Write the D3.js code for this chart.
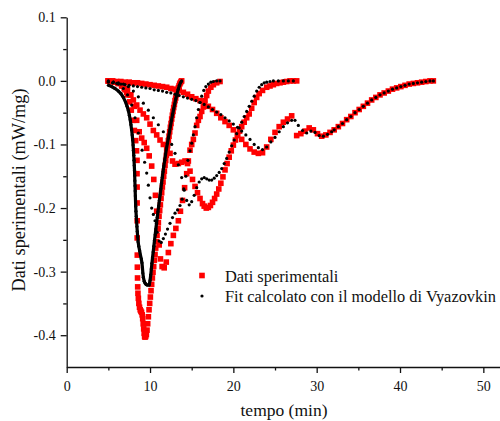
<!DOCTYPE html>
<html><head><meta charset="utf-8">
<script src="https://cdn.jsdelivr.net/npm/d3@7"></script>
<style>html,body{margin:0;padding:0;background:#fff;}svg{display:block;}</style>
</head><body><div id="chart"></div>
<script>
// ---- data: [tempo (min), mW/mg] ----
const r1 = [[5.0,0],[5.4,-0.001],[5.8,-0.002],[6.2,-0.004],[6.6,-0.008],[7.0,-0.014],[7.3,-0.022],[7.55,-0.033],[7.75,-0.046],[7.95,-0.062],[8.12,-0.078],[8.28,-0.094],[8.38,-0.110],
[8.44,-0.125],[8.44,-0.146],[8.45,-0.167],[8.45,-0.192],[8.46,-0.220],[8.46,-0.247],[8.47,-0.274],[8.48,-0.293],[8.50,-0.310],[8.52,-0.324],[8.55,-0.334],[8.6,-0.342],[8.66,-0.350],[8.74,-0.356],[8.82,-0.360],[8.9,-0.362],[8.98,-0.364],[9.06,-0.368],[9.12,-0.374],[9.18,-0.382],[9.24,-0.390],[9.30,-0.397],[9.35,-0.402],
[9.40,-0.403],[9.48,-0.402],[9.56,-0.399],[9.64,-0.392],[9.72,-0.382],[9.80,-0.371],[9.88,-0.360],[9.96,-0.350],[10.04,-0.340],[10.12,-0.330],[10.20,-0.320],[10.28,-0.310],[10.36,-0.301],[10.44,-0.292],[10.52,-0.282],[10.60,-0.273],[10.68,-0.263],[10.76,-0.253],[10.84,-0.243],[10.92,-0.233],[11.00,-0.223],[11.08,-0.213],[11.16,-0.204],[11.24,-0.195],[11.32,-0.185],[11.40,-0.176],[11.48,-0.167],[11.56,-0.159],[11.64,-0.150],[11.72,-0.142],[11.80,-0.133],[11.88,-0.125],[11.96,-0.117],[12.04,-0.109],[12.12,-0.102],[12.20,-0.094],[12.28,-0.087],[12.36,-0.080],[12.44,-0.073],[12.52,-0.067],[12.60,-0.060],[12.68,-0.054],[12.76,-0.048],[12.84,-0.042],[12.92,-0.037],[13.00,-0.031],[13.08,-0.027],[13.16,-0.022],[13.24,-0.018],[13.32,-0.014],[13.40,-0.011],[13.48,-0.008],[13.56,-0.005],[13.64,-0.003],[13.72,-0.001],[13.80,0]];

const b1 = [[5.0,-0.007],[5.4,-0.009],[5.8,-0.012],[6.2,-0.016],[6.5,-0.020],[6.8,-0.026],[7.05,-0.033],[7.25,-0.040],[7.4,-0.047],[7.52,-0.054],[7.62,-0.061],[7.71,-0.069],[7.79,-0.077],[7.86,-0.085],[7.92,-0.093],[7.97,-0.101],[8.01,-0.109],[8.05,-0.117],[8.08,-0.125],[8.11,-0.133],[8.14,-0.141],[8.16,-0.149],[8.18,-0.157],[8.20,-0.165],[8.22,-0.173],[8.24,-0.181],[8.26,-0.189],[8.28,-0.197],[8.31,-0.205],[8.35,-0.213],[8.39,-0.221],[8.43,-0.229],[8.47,-0.237],[8.52,-0.245],[8.57,-0.253],[8.65,-0.260],[8.75,-0.267],[8.85,-0.274],[8.95,-0.280],[9.03,-0.286],[9.09,-0.294],[9.14,-0.302],[9.2,-0.309],[9.3,-0.315],[9.4,-0.318],[9.52,-0.320],[9.64,-0.321],[9.76,-0.321],[9.9,-0.321],
[10.0,-0.314],[10.09,-0.305],[10.155,-0.296],[10.225,-0.287],[10.30,-0.278],[10.38,-0.269],[10.46,-0.260],[10.535,-0.251],[10.62,-0.242],[10.70,-0.233],[10.78,-0.224],[10.865,-0.215],[10.95,-0.206],[11.035,-0.197],[11.12,-0.188],[11.21,-0.179],[11.30,-0.170],[11.38,-0.161],[11.47,-0.152],[11.56,-0.143],[11.66,-0.134],[11.76,-0.125],[11.86,-0.116],[11.965,-0.107],[12.085,-0.098],[12.215,-0.089],[12.34,-0.080],[12.455,-0.071],[12.575,-0.062],[12.705,-0.053],[12.84,-0.044],[12.97,-0.036],[13.10,-0.028],[13.24,-0.020],[13.39,-0.013],[13.53,-0.007],[13.65,-0.003],[13.8,0]];

const r2 = [[5.0,0],[5.6,-0.001],[6.2,-0.003],[6.8,-0.008],[7.3,-0.014],[7.7,-0.022],[8.1,-0.040],[8.4,-0.062],[8.7,-0.080],[9.0,-0.090],[9.3,-0.097],[9.6,-0.106],[9.9,-0.118],[10.2,-0.134],[10.45,-0.155],[10.65,-0.180],[10.8,-0.205],[10.95,-0.232],[11.1,-0.258],[11.25,-0.280],[11.45,-0.292],[11.7,-0.294],[11.95,-0.285],[12.2,-0.270],[12.5,-0.256],[12.8,-0.243],[13.1,-0.232],[13.4,-0.220],[13.65,-0.205],[13.9,-0.188],[14.15,-0.168],[14.4,-0.146],[14.6,-0.126],[14.8,-0.109],[15.0,-0.100],[15.2,-0.092],[15.4,-0.082],[15.6,-0.070],[15.8,-0.062],[16.0,-0.056],[16.2,-0.048],[16.4,-0.041],[16.6,-0.031],[16.8,-0.023],[17.0,-0.016],[17.3,-0.010],[17.6,-0.006],[18.0,-0.003],[18.4,-0.001]];

const b2 = [[5.0,0],[5.6,-0.002],[6.2,-0.005],[6.8,-0.012],[7.3,-0.022],[7.8,-0.038],[8.2,-0.058],[8.6,-0.082],[9.05,-0.109],[9.35,-0.128],[9.6,-0.145],[9.8,-0.164],[10.0,-0.184],[10.2,-0.200],[10.4,-0.210],[10.6,-0.220],[10.85,-0.238],[11.1,-0.252],[11.35,-0.254],[11.6,-0.248],[11.85,-0.241],[12.1,-0.233],[12.4,-0.224],[12.7,-0.215],[13.0,-0.208],[13.3,-0.203],[13.6,-0.196],[13.85,-0.186],[14.05,-0.170],[14.3,-0.150],[14.55,-0.125],[14.8,-0.110],[15.0,-0.098],[15.2,-0.085],[15.4,-0.072],[15.6,-0.058],[15.8,-0.045],[16.0,-0.034],[16.2,-0.024],[16.45,-0.015],[16.7,-0.009],[17.0,-0.005],[17.3,-0.002],[17.6,-0.001],[18.0,0],[18.4,0]];

const r3 = [[5.0,0],[5.4,-0.001],[5.8,-0.002],[6.2,-0.004],[6.6,-0.007],[6.9,-0.012],[7.2,-0.018],[7.6,-0.022],[8.0,-0.030],[8.4,-0.038],[8.8,-0.046],[9.2,-0.052],[9.6,-0.058],[10.0,-0.068],[10.4,-0.078],[10.8,-0.085],[11.2,-0.093],[11.6,-0.100],[12.0,-0.107],[12.4,-0.114],[12.7,-0.126],[13.0,-0.131],[13.4,-0.130],[13.8,-0.128],[14.2,-0.126],[14.5,-0.130],[14.8,-0.142],[15.1,-0.155],[15.4,-0.166],[15.7,-0.176],[16.0,-0.185],[16.3,-0.193],[16.5,-0.197],[16.75,-0.200],[17.0,-0.199],[17.25,-0.196],[17.5,-0.191],[17.75,-0.185],[18.0,-0.178],[18.25,-0.170],[18.5,-0.161],[18.75,-0.151],[19.0,-0.140],[19.25,-0.130],[19.5,-0.120],[19.75,-0.110],[20.0,-0.101],[20.25,-0.093],[20.5,-0.086],[20.75,-0.079],[21.0,-0.072],[21.3,-0.065],[21.6,-0.058],[21.9,-0.052],[22.2,-0.043],[22.5,-0.034],[22.8,-0.026],[23.1,-0.020],[23.5,-0.015],[24.0,-0.010],[24.4,-0.008],[24.8,-0.006],[25.2,-0.004],[25.6,-0.003],[26.0,-0.002],[26.4,-0.001],[26.8,0],[27.2,0],[27.6,0]];

const b3 = [[5.0,-0.001],[5.6,-0.002],[6.2,-0.003],[6.8,-0.005],[7.4,-0.009],[8.0,-0.016],[8.6,-0.025],[9.2,-0.035],[9.8,-0.046],[10.4,-0.058],[11.0,-0.069],[11.6,-0.080],[12.2,-0.090],[12.6,-0.100],[13.0,-0.114],[13.4,-0.132],[13.8,-0.152],[14.1,-0.172],[14.4,-0.188],[14.7,-0.195],[15.0,-0.190],[15.3,-0.180],[15.6,-0.168],[15.9,-0.159],[16.2,-0.154],[16.5,-0.152],[16.8,-0.154],[17.1,-0.156],[17.4,-0.156],[17.7,-0.153],[18.0,-0.149],[18.3,-0.144],[18.6,-0.138],[18.9,-0.130],[19.2,-0.122],[19.5,-0.112],[19.8,-0.102],[20.1,-0.093],[20.4,-0.083],[20.7,-0.074],[21.0,-0.065],[21.3,-0.056],[21.6,-0.048],[21.9,-0.040],[22.2,-0.032],[22.5,-0.024],[22.8,-0.016],[23.1,-0.010],[23.4,-0.006],[23.7,-0.003],[24.0,-0.002],[24.4,-0.001],[24.8,0],[25.4,0],[26.0,0],[26.6,0],[27.2,0]];

const r4 = [[5.0,0],[5.5,0],[6.0,-0.001],[6.5,-0.001],[7.0,-0.002],[7.5,-0.002],[8.0,-0.003],[8.5,-0.003],[9.0,-0.004],[9.5,-0.005],[10.0,-0.006],[10.5,-0.007],[11.0,-0.008],[11.5,-0.009],[12.0,-0.010],[12.5,-0.012],[13.0,-0.013],[13.5,-0.015],[14.0,-0.018],[14.5,-0.021],[15.0,-0.025],[15.5,-0.028],[16.0,-0.031],[16.5,-0.035],[17.0,-0.040],[17.5,-0.045],[18.0,-0.051],[18.5,-0.058],[19.0,-0.064],[19.5,-0.070],[20.0,-0.077],[20.5,-0.084],[21.0,-0.092],[21.5,-0.100],[22.0,-0.107],[22.5,-0.112],[23.0,-0.114],[23.5,-0.113],[24.0,-0.104],[24.5,-0.092],[25.0,-0.081],[25.5,-0.072],[26.0,-0.065],[26.5,-0.060],[27.0,-0.055],
[27.6,-0.086],[28.1,-0.083],[28.6,-0.079],[29.1,-0.074],[29.6,-0.077],[30.1,-0.083],[30.6,-0.087],[31.1,-0.085],[31.6,-0.081],[32.1,-0.077],[32.6,-0.072],[33.1,-0.067],[33.6,-0.061],[34.1,-0.056],[34.6,-0.050],[35.1,-0.045],[35.6,-0.040],[36.1,-0.035],[36.6,-0.030],[37.1,-0.026],[37.6,-0.022],[38.1,-0.019],[38.6,-0.016],[39.1,-0.013],[39.6,-0.011],[40.1,-0.009],[40.6,-0.007],[41.1,-0.005],[41.6,-0.004],[42.1,-0.003],[42.6,-0.002],[43.1,-0.001],[43.6,0],[44.0,0]];

const b4 = [[5.0,-0.002],[5.5,-0.003],[6.0,-0.004],[6.5,-0.005],[7.0,-0.006],[7.5,-0.007],[8.0,-0.008],[8.5,-0.009],[9.0,-0.010],[9.5,-0.011],[10.0,-0.012],[10.5,-0.014],[11.0,-0.015],[11.5,-0.016],[12.0,-0.018],[12.5,-0.019],[13.0,-0.021],[13.5,-0.023],[14.0,-0.025],[14.5,-0.027],[15.0,-0.029],[15.5,-0.031],[16.0,-0.034],[16.5,-0.037],[17.0,-0.041],[17.5,-0.045],[18.0,-0.049],[18.5,-0.053],[19.0,-0.058],[19.5,-0.063],[20.0,-0.068],[20.5,-0.073],[21.0,-0.079],[21.5,-0.085],[22.0,-0.092],[22.5,-0.100],[23.0,-0.105],[23.5,-0.108],[24.0,-0.104],[24.5,-0.096],[25.0,-0.089],[25.5,-0.080],[26.0,-0.072],[26.5,-0.066],[27.0,-0.062],[27.4,-0.062],[27.8,-0.070],[28.3,-0.078],[28.8,-0.082],[29.3,-0.079],[29.8,-0.081],[30.3,-0.086],[30.8,-0.087],[31.3,-0.084],[31.8,-0.080],[32.1,-0.077],[32.6,-0.072],[33.1,-0.067],[33.6,-0.061],[34.1,-0.056],[34.6,-0.050],[35.1,-0.045],[35.6,-0.040],[36.1,-0.035],[36.6,-0.030],[37.1,-0.026],[37.6,-0.022],[38.1,-0.019],[38.6,-0.016],[39.1,-0.013],[39.6,-0.011],[40.1,-0.009],[40.6,-0.007],[41.1,-0.005],[41.6,-0.004],[42.1,-0.003],[42.6,-0.002],[43.1,-0.001],[43.6,0],[44.0,0]];

const redSeries = [r1, r2, r3, r4];
const blackSeries = [b1, b2, b3, b4];
const xMajor = [0, 10, 20, 30, 40, 50];
const xMinor = [5, 15, 25, 35, 45];
const yMajor = [0.1, 0.0, -0.1, -0.2, -0.3, -0.4];
const yMinor = [0.05, -0.05, -0.15, -0.25, -0.35];
const xTitle = "tempo (min)";
const yTitle = "Dati sperimentali (mW/mg)";
const legendLabels = ["Dati sperimentali", "Fit calcolato con il modello di Vyazovkin"];

// ---- drawing ----
const W = 500, H = 421;
const FONT = "'Liberation Serif','Times New Roman',Times,serif";
const svg = d3.select("#chart").append("svg").attr("width", W).attr("height", H);
const x = d3.scaleLinear().domain([0, 52]).range([66.7, 500]);
const y = d3.scaleLinear().domain([-0.45, 0.1]).range([367, 17.3]);

const gx = svg.append("g").attr("transform", `translate(0,${y(-0.45)})`);
gx.call(d3.axisBottom(x).tickValues(xMajor).tickSize(6).tickSizeOuter(0).tickPadding(8.5).tickFormat(d => String(d)));
const gxm = svg.append("g").attr("transform", `translate(0,${y(-0.45)})`);
gxm.call(d3.axisBottom(x).tickValues(xMinor).tickSize(3.5).tickSizeOuter(0).tickFormat(""));
gxm.select(".domain").remove();

const gy = svg.append("g").attr("transform", `translate(${x(0)},0)`);
gy.call(d3.axisLeft(y).tickValues(yMajor).tickSize(6).tickSizeOuter(0).tickPadding(5).tickFormat(d => d.toFixed(1)));
const gym = svg.append("g").attr("transform", `translate(${x(0)},0)`);
gym.call(d3.axisLeft(y).tickValues(yMinor).tickSize(3.5).tickSizeOuter(0).tickFormat(""));
gym.select(".domain").remove();

svg.selectAll(".domain, .tick line").attr("stroke", "#111").attr("stroke-width", 1.3);
svg.selectAll(".tick text").attr("font-family", FONT).attr("font-size", 14).attr("fill", "#111");

svg.append("text").attr("x", 284).attr("y", 416).attr("text-anchor", "middle")
  .attr("font-family", FONT).attr("font-size", 17.5).attr("fill", "#111").text(xTitle);
svg.append("text").attr("transform", "translate(25,190) rotate(-90)").attr("text-anchor", "middle")
  .attr("font-family", FONT).attr("font-size", 18.3).attr("fill", "#111").text(yTitle);

const SQ = 5.6, R = 1.6;
const plot = svg.append("g");
redSeries.forEach(s => {
  plot.append("g").selectAll("rect").data(s).join("rect")
    .attr("x", d => x(d[0]) - SQ / 2).attr("y", d => y(d[1]) - SQ / 2)
    .attr("width", SQ).attr("height", SQ).attr("fill", "#ff0000");
});
// the fastest fit is sampled so densely that its dots merge into a solid band
plot.append("path").datum(b1)
  .attr("d", d3.line().x(d => x(d[0])).y(d => y(d[1])))
  .attr("fill", "none").attr("stroke", "#000").attr("stroke-width", 3.2).attr("stroke-linejoin", "round");
blackSeries.forEach(s => {
  plot.append("g").selectAll("circle").data(s).join("circle")
    .attr("cx", d => x(d[0])).attr("cy", d => y(d[1])).attr("r", R).attr("fill", "#000");
});

// legend
const lg = svg.append("g");
lg.append("rect").attr("x", 202 - SQ / 2).attr("y", 275.5 - SQ / 2).attr("width", SQ).attr("height", SQ).attr("fill", "#ff0000");
lg.append("circle").attr("cx", 202).attr("cy", 296).attr("r", R).attr("fill", "#000");
lg.append("text").attr("x", 225).attr("y", 281.5).attr("font-family", FONT).attr("font-size", 16.4).attr("fill", "#111").text(legendLabels[0]);
lg.append("text").attr("x", 225).attr("y", 301.5).attr("font-family", FONT).attr("font-size", 16.4).attr("fill", "#111").text(legendLabels[1]);
</script>
</body></html>
